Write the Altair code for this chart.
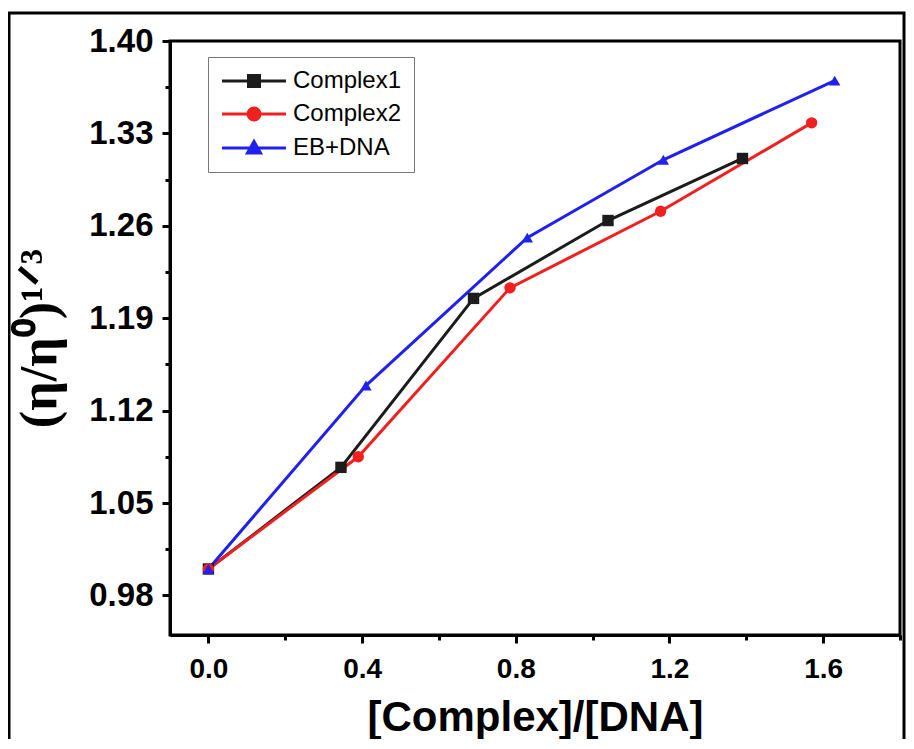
import altair as alt
import pandas as pd

series_names = ["Complex1", "Complex2", "EB+DNA"]
complex1_x = [0.0, 0.345, 0.69, 1.04, 1.39]
complex1_y = [1.000, 1.077, 1.205, 1.264, 1.311]
complex2_x = [0.0, 0.39, 0.785, 1.177, 1.57]
complex2_y = [1.000, 1.085, 1.213, 1.271, 1.338]
ebdna_x = [0.0, 0.41, 0.83, 1.184, 1.63]
ebdna_y = [1.000, 1.139, 1.251, 1.310, 1.370]

x_major = [0.0, 0.4, 0.8, 1.2, 1.6]
x_minor = [0.2, 0.6, 1.0, 1.4, 1.8]
y_major = [0.98, 1.05, 1.12, 1.19, 1.26, 1.33, 1.40]
y_minor = [1.015, 1.085, 1.155, 1.225, 1.295, 1.365]

colors = ["#1c1c1c", "#f02020", "#2020f0"]
marker_shapes = ["square", "circle", "triangle-up"]
legend_paths = [
    "M-1,0H5.4M1.65,-0.55H2.75V0.55H1.65Z",
    "M-1,0H5.4M2.8,0A0.6,0.6,0,1,1,1.6,0A0.6,0.6,0,1,1,2.8,0Z",
    "M-1,0H5.4M2.2,-0.65L2.85,0.5H1.55Z",
]

rows = []
for name, xs_, ys_ in [
    (series_names[0], complex1_x, complex1_y),
    (series_names[1], complex2_x, complex2_y),
    (series_names[2], ebdna_x, ebdna_y),
]:
    for a, b in zip(xs_, ys_):
        rows.append({"series": name, "x": a, "y": b})
df = pd.DataFrame(rows)

xs = alt.Scale(domain=[-0.1, 1.8], nice=False, zero=False)
ys = alt.Scale(domain=[0.95, 1.40], nice=False, zero=False)
cscale = alt.Scale(domain=series_names, range=colors)

axis_common = dict(
    domainColor="black", domainWidth=3, tickColor="black", tickWidth=3,
    labelColor="black", grid=False, titleColor="black",
)

x_main = alt.Axis(
    values=x_major, format=".1f", orient="bottom", tickSize=8,
    labelFont="Liberation Sans", labelFontWeight="bold", labelFontSize=28,
    labelPadding=12, title="[Complex]/[DNA]", titleFont="Liberation Sans",
    titleFontWeight="bold", titleFontSize=42, titlePadding=14, **axis_common,
)
y_main = alt.Axis(
    values=y_major, format=".2f", orient="left", tickSize=8,
    labelFont="Liberation Sans", labelFontWeight="bold", labelFontSize=33,
    labelPadding=9, title="(η/η⁰)¹ᐟ³", titleFont="Liberation Serif",
    titleFontWeight="bold", titleFontSize=52, titlePadding=22, **axis_common,
)
x_min = alt.Axis(values=x_minor, orient="bottom", tickSize=5, labels=False,
                 domain=False, title="", tickColor="black", tickWidth=3, grid=False)
y_min = alt.Axis(values=y_minor, orient="left", tickSize=5, labels=False,
                 domain=False, title="", tickColor="black", tickWidth=3, grid=False)

base = alt.Chart(df)

lines = base.mark_line(strokeWidth=3).encode(
    x=alt.X("x:Q", scale=xs, axis=x_main),
    y=alt.Y("y:Q", scale=ys, axis=y_main),
    color=alt.Color("series:N", scale=cscale, legend=None),
)

points = base.mark_point(filled=True, opacity=1, size=130).encode(
    x=alt.X("x:Q", scale=xs, axis=x_min),
    y=alt.Y("y:Q", scale=ys, axis=y_min),
    color=alt.Color("series:N", scale=cscale, legend=None),
    shape=alt.Shape("series:N", scale=alt.Scale(domain=series_names, range=marker_shapes), legend=None),
)

leg = dict(
    orient="none", legendX=38, legendY=16, title=None, symbolSize=400,
    symbolStrokeWidth=3, symbolOpacity=1, labelFont="Liberation Sans",
    labelFontSize=24, labelColor="black", strokeColor="#777777", fillColor="white",
    padding=12, rowPadding=8, labelOffset=49,
)

dummy = base.mark_point(filled=True, opacity=0, strokeWidth=3, size=400).encode(
    x=alt.X("x:Q", scale=xs, axis=None),
    y=alt.Y("y:Q", scale=ys, axis=None),
    fill=alt.Fill("series:N", scale=cscale, legend=alt.Legend(**leg)),
    stroke=alt.Stroke("series:N", scale=cscale, legend=alt.Legend(**leg)),
    shape=alt.Shape("series:N", scale=alt.Scale(domain=series_names, range=legend_paths),
                    legend=alt.Legend(**leg)),
)

frame = alt.Chart(alt.Data(values=[{}])).mark_rect(
    fillOpacity=0, stroke="black", strokeWidth=3, clip=False
).encode(
    x=alt.value(-161), x2=alt.value(734), y=alt.value(-28), y2=alt.value(720)
)

chart = alt.layer(frame, lines, points, dummy).resolve_scale(
    shape="independent", fill="independent", stroke="independent"
).resolve_axis(
    x="independent", y="independent"
).properties(
    width=730, height=594, autosize="none",
    padding={"left": 162, "top": 33, "right": 6, "bottom": 104},
    background="white",
).configure_view(stroke="black", strokeWidth=3)

chart.save("out.html", embed_options={"renderer": "svg", "actions": False})
